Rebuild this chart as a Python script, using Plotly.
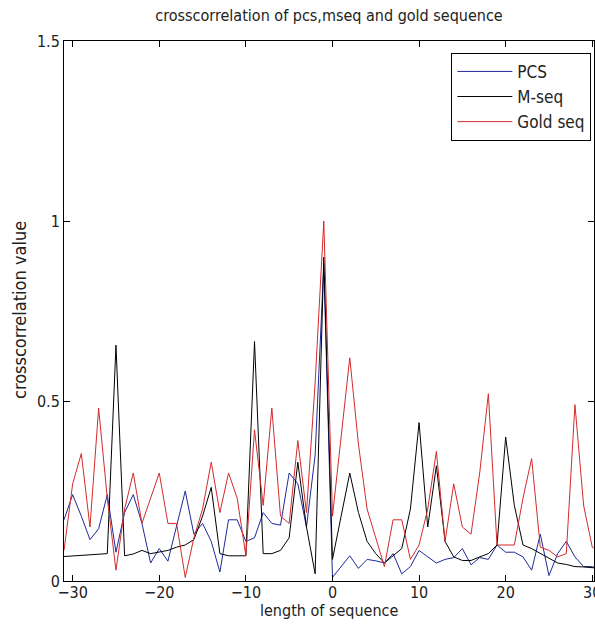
import plotly.graph_objects as go

lags = list(range(-31, 32))

pcs = [0.17, 0.24, 0.18, 0.115, 0.145, 0.24, 0.08, 0.19, 0.24, 0.16,
       0.05, 0.09, 0.055, 0.15, 0.25, 0.13, 0.16, 0.11, 0.025, 0.17,
       0.17, 0.11, 0.12, 0.19, 0.16, 0.155, 0.30, 0.27, 0.15, 0.35,
       0.88, 0.01, 0.04, 0.07, 0.035, 0.06, 0.056, 0.05, 0.076, 0.02,
       0.04, 0.085, 0.067, 0.05, 0.06, 0.065, 0.09, 0.045, 0.065, 0.06,
       0.10, 0.08, 0.08, 0.067, 0.03, 0.13, 0.015, 0.076, 0.11, 0.067,
       0.04, 0.04, 0.03]

mseq = [0.068, 0.07, 0.072, 0.072, 0.074, 0.076, 0.655, 0.07, 0.075, 0.085,
        0.076, 0.08, 0.085, 0.094, 0.10, 0.115, 0.18, 0.26, 0.076, 0.07,
        0.07, 0.07, 0.665, 0.076, 0.076, 0.085, 0.12, 0.33, 0.15, 0.02,
        0.90, 0.06, 0.18, 0.30, 0.19, 0.11, 0.076, 0.05, 0.07, 0.09,
        0.20, 0.44, 0.15, 0.32, 0.11, 0.067, 0.057, 0.057, 0.067, 0.076,
        0.10, 0.40, 0.21, 0.10, 0.09, 0.076, 0.062, 0.05, 0.046, 0.04,
        0.039, 0.037, 0.035]

gold = [0.085, 0.27, 0.354, 0.15, 0.48, 0.23, 0.03, 0.20, 0.30, 0.16,
        0.23, 0.30, 0.16, 0.16, 0.01, 0.12, 0.20, 0.33, 0.19, 0.30,
        0.23, 0.07, 0.42, 0.21, 0.48, 0.18, 0.16, 0.39, 0.19, 0.55,
        1.0, 0.18, 0.40, 0.62, 0.38, 0.20, 0.12, 0.04, 0.17, 0.17,
        0.06, 0.10, 0.20, 0.36, 0.11, 0.27, 0.15, 0.13, 0.30, 0.52,
        0.10, 0.10, 0.10, 0.23, 0.34, 0.094, 0.085, 0.067, 0.076, 0.49,
        0.21, 0.094, 0.08]

x_ticks = [-30, -20, -10, 0, 10, 20, 30]
y_ticks = [0, 0.5, 1, 1.5]
y_tick_text = ["0", "0.5", "1", "1.5"]

FONT = "Liberation Sans Narrow, DejaVu Sans Condensed, Arial Narrow, sans-serif"
TXT = "#222222"

fig = go.Figure()
fig.add_trace(go.Scatter(x=lags, y=pcs, mode="lines", name="PCS",
                         line=dict(color="#1f2a9a", width=1)))
fig.add_trace(go.Scatter(x=lags, y=mseq, mode="lines", name="M-seq",
                         line=dict(color="#000000", width=1)))
fig.add_trace(go.Scatter(x=lags, y=gold, mode="lines", name="Gold seq",
                         line=dict(color="#d42a2a", width=1)))

axis_common = dict(
    showgrid=False, zeroline=False, showline=True, linecolor="black",
    linewidth=1, mirror="allticks", ticks="inside", ticklen=6,
    tickcolor="black", tickwidth=1, automargin=False,
    tickfont=dict(family=FONT, size=16, color=TXT),
)

fig.update_layout(
    width=595, height=637,
    margin=dict(l=64, r=1, t=41, b=56),
    paper_bgcolor="white", plot_bgcolor="white",
    title=dict(text="crosscorrelation of pcs,mseq and gold sequence",
               x=0.5, xref="paper", xanchor="center",
               y=1 - 15 / 637, yref="container", yanchor="middle",
               font=dict(family=FONT, size=16, color=TXT)),
    xaxis=dict(range=[-31, 30.2], tickvals=x_ticks, ticklabelstandoff=-3,
               ticklabeloverflow="allow", **axis_common),
    yaxis=dict(range=[0, 1.5], tickvals=y_ticks, ticktext=y_tick_text,
               ticklabelstandoff=0, **axis_common),
    showlegend=True,
    legend=dict(x=0.995, xanchor="right", y=0.978, yanchor="top",
                bordercolor="black", borderwidth=1, bgcolor="white",
                font=dict(family=FONT, size=17, color=TXT),
                itemwidth=55, tracegroupgap=0),
    annotations=[
        dict(text="length of sequence", xref="paper", yref="paper",
             x=0.5, y=(581 - 610) / 540, xanchor="center", yanchor="middle",
             showarrow=False, font=dict(family=FONT, size=16, color=TXT)),
        dict(text="crosscorrelation value", xref="paper", yref="paper",
             x=(19 - 64) / 530, y=(581 - 310) / 540, xanchor="center",
             yanchor="middle", textangle=-90, showarrow=False,
             font=dict(family=FONT, size=18, color=TXT)),
    ],
)

fig.write_html("out.html")
